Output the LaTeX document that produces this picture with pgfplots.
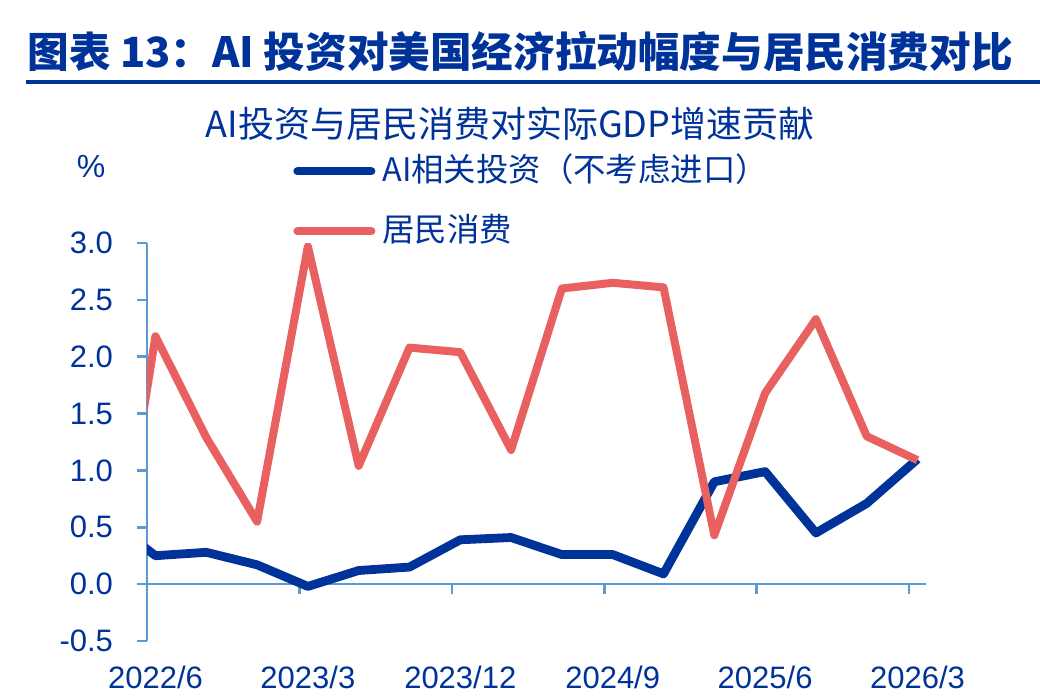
\documentclass[border=0pt]{standalone}
\usepackage{fontspec}
\setmainfont{Liberation Sans}
\newfontfamily\cjk{Noto Sans CJK SC}
\usepackage{pgfplots}
\usepackage{pgfplotstable}
\pgfplotsset{compat=1.18}
\definecolor{navy}{RGB}{0,51,153}
\definecolor{consred}{RGB}{232,96,96}
\definecolor{axisblue}{RGB}{91,155,213}

% quarter index: 0 = 2022/6 ... 15 = 2026/3 (-1 = 2022/3, clipped by the axis)
\pgfplotstableread{
q   ai     cons
-1  0.59  -0.64
0   0.25   2.18
1   0.28   1.29
2   0.17   0.55
3  -0.02   2.97
4   0.12   1.04
5   0.15   2.08
6   0.39   2.04
7   0.41   1.18
8   0.26   2.60
9   0.26   2.65
10  0.09   2.61
11  0.90   0.43
12  0.99   1.68
13  0.45   2.33
14  0.71   1.30
15  1.10   1.09
}\gdpdata

\begin{document}
\begin{tikzpicture}[x=0.5pt,y=0.5pt]
\useasboundingbox (0,0) rectangle (1040,696);
\node[anchor=base west, inner sep=0pt, text=navy,
  font=\cjk\bfseries\fontsize{20.8pt}{25pt}\selectfont] at (27,628)
  {图表 13：AI 投资对美国经济拉动幅度与居民消费对比};
\draw[navy, line width=2pt] (26,614) -- (1040,614);
\begin{axis}[
  at={(73.5pt,27.5pt)}, anchor=south west,
  scale only axis, width=389.5pt, height=199pt,
  xmin=-0.1667, xmax=15.1667, ymin=-0.5, ymax=3,
  axis y line=left, axis x line=middle,
  hide obscured x ticks=false, hide obscured y ticks=false,
  axis line style={-, draw=axisblue, line width=1.3pt},
  every tick/.style={axisblue, line width=1.3pt},
  tick align=outside, major tick length=5pt,
  ytick={-0.5,0,0.5,1,1.5,2,2.5,3},
  yticklabels={-0.5,0.0,0.5,1.0,1.5,2.0,2.5,3.0},
  xtick={-0.1667,2.8333,5.8333,8.8333,11.8333,14.8333},
  xticklabels={},
  extra x ticks={0,3,6,9,12,15},
  extra x tick labels={2022/6,2023/3,2023/12,2024/9,2025/6,2026/3},
  extra x tick style={major tick length=0pt},
  tick label style={font=\fontsize{15.5pt}{18pt}\selectfont, text=navy},
  xticklabel style={anchor=base, yshift=-52pt},
  yticklabel style={anchor=east, xshift=-8.5pt},
  title={AI投资与居民消费对实际GDP增速贡献},
  title style={at={(axis description cs:0.466,1.2337)}, anchor=base,
    font=\cjk\fontsize{18pt}{21pt}\selectfont, text=navy, inner sep=0pt},
  ylabel={\%},
  every axis y label/.style={at={(axis description cs:-0.0719,1.191)},
    anchor=center, font=\fontsize{16pt}{19pt}\selectfont, text=navy},
  legend style={at={(axis description cs:0.1874,1.2211)}, anchor=north west,
    draw=none, fill=none, inner sep=0pt, row sep=14pt,
    font=\cjk\fontsize{16.2pt}{19pt}\selectfont, text=navy,
    nodes={inner sep=0pt, text height=13pt, text depth=3pt},
    /tikz/every odd column/.style={column sep=3.5pt}},
  legend cell align=left,
  legend image code/.code={\draw[#1, line width=4pt, line cap=round] (2pt,0pt) -- (39pt,0pt);},
]
\addplot[navy, line width=4.4pt, line join=round] table[x=q, y=ai] {\gdpdata};
\addlegendentry{AI相关投资（不考虑进口）}
\addplot[consred, line width=4pt, line join=round] table[x=q, y=cons] {\gdpdata};
\addlegendentry{居民消费}
\end{axis}
\end{tikzpicture}
\end{document}
